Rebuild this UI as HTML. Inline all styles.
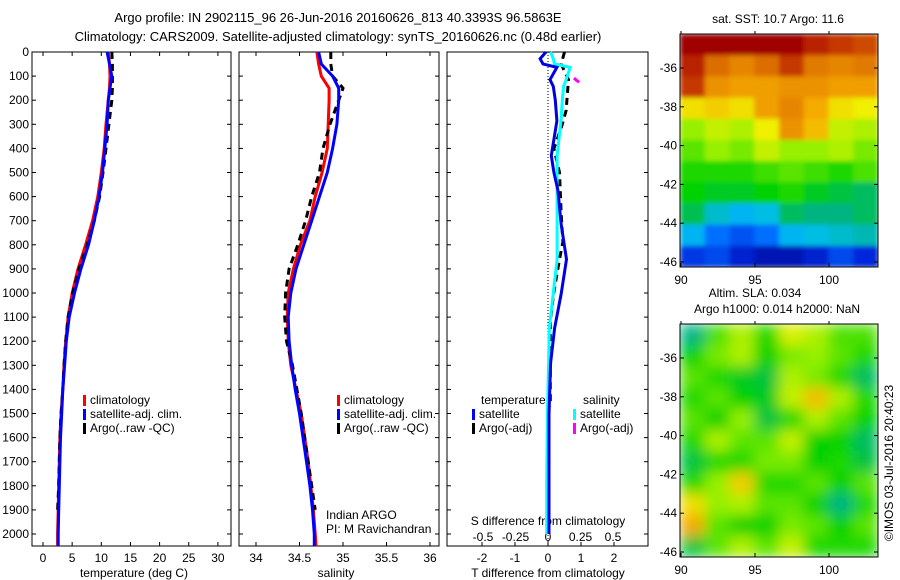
<!DOCTYPE html>
<html><head><meta charset="utf-8"><style>
body{margin:0;background:#fff;}
svg{display:block;font-family:"Liberation Sans",sans-serif;}
text{font-size:12px;fill:#000;}
</style></head><body>
<svg id="chart" width="900" height="580" viewBox="0 0 900 580" xmlns="http://www.w3.org/2000/svg">
<defs>
<filter id="blur" x="-10%" y="-10%" width="120%" height="120%"><feGaussianBlur stdDeviation="7" edgeMode="duplicate"/></filter>
<filter id="blur2" x="-5%" y="-5%" width="110%" height="110%"><feGaussianBlur stdDeviation="2.5" edgeMode="duplicate"/></filter>
<clipPath id="clip1"><rect x="680" y="34" width="198" height="233"/></clipPath>
<clipPath id="clip2"><rect x="680" y="324" width="198" height="233"/></clipPath>
</defs>
<text x="338" y="22" text-anchor="middle" style="font-size:13px">Argo profile: IN 2902115_96 26-Jun-2016 20160626_813 40.3393S 96.5863E</text>
<text x="338" y="41" text-anchor="middle" style="font-size:13px">Climatology: CARS2009. Satellite-adjusted climatology: synTS_20160626.nc (0.48d earlier)</text>
<g id="g"></g>
</svg>
<script>
const depths=[0,50,100,150,200,300,400,500,600,700,800,900,1000,1100,1200,1300,1400,1500,1600,1700,1800,1900,2000,2050];
const tClim=[11.2,11.4,11.5,11.4,11.2,10.8,10.5,10.0,9.4,8.5,7.3,6.0,5.0,4.3,3.9,3.6,3.4,3.1,2.9,2.8,2.7,2.6,2.5,2.5];
const tSat=[11.0,11.4,11.8,11.5,11.2,11.0,10.6,10.2,9.6,8.8,7.8,6.5,5.4,4.5,4.0,3.7,3.4,3.2,3.0,2.9,2.8,2.7,2.6,2.6];
const argoDepths=[0,50,100,150,200,300,400,500,600,700,800,900,1000,1100,1200,1300,1400,1500,1600,1700,1800,1900];
const tArgo=[11.8,11.9,11.9,11.9,11.8,11.3,10.8,10.3,9.7,8.8,7.6,6.2,5.1,4.3,3.9,3.6,3.4,3.1,2.9,2.8,2.7,2.5];
const sClim=[34.70,34.72,34.75,34.84,34.84,34.83,34.82,34.76,34.68,34.62,34.51,34.43,34.37,34.36,34.37,34.40,34.46,34.52,34.56,34.60,34.63,34.66,34.68,34.69];
const sSat=[34.72,34.75,34.88,34.95,34.95,34.93,34.88,34.82,34.73,34.64,34.55,34.46,34.40,34.37,34.38,34.41,34.45,34.50,34.54,34.58,34.62,34.65,34.67,34.67];
const sArgo=[34.86,34.86,34.88,35.0,34.95,34.85,34.77,34.73,34.64,34.57,34.48,34.38,34.34,34.33,34.35,34.42,34.47,34.52,34.56,34.60,34.64,34.68];
const dDepths=[0,28,50,64,115,143,200,286,430,500,573,716,860,1003,1146,1290,1505,1800,2000];
const dT=[-0.06,-0.24,-0.15,0.27,0.06,0.16,0.22,0.27,0.1,0.18,0.3,0.4,0.56,0.4,0.2,0.08,0.03,0.03,0.03];
const dS=[0.02,0.04,0.05,0.17,0.14,0.12,0.11,0.10,0.07,0.07,0.07,0.07,0.07,0.04,0.01,0.005,-0.005,-0.01,-0.01];
const aDepths=[0,50,115,243,315,400,500,673,788,860,1003,1117,1360,1470];
const aT=[0.5,0.4,0.62,0.55,0.4,0.18,0.35,0.4,0.45,0.35,0.17,0.07,0.07,0.07];
const magDepths=[108,118,125];
const magS=[0.2,0.22,0.24];
const depthTicks=[0,100,200,300,400,500,600,700,800,900,1000,1100,1200,1300,1400,1500,1600,1700,1800,1900,2000];
const tTicks=[0,5,10,15,20,25,30];
const sTicks=[34,34.5,35,35.5,36];
const dTTicks=[-2,-1,0,1,2];
const dSTicks=[-0.5,-0.25,0,0.25,0.5];
const latTicks=[-36,-38,-40,-42,-44,-46];
const lonTicks=[90,95,100];
const sstGrid=[
[1,1,1,1,1,0.95,0.92,0.9],[0.95,0.86,0.82,0.86,0.92,0.84,0.82,0.84],[0.92,0.8,0.78,0.78,0.8,0.8,0.78,0.78],
[0.7,0.72,0.7,0.78,0.82,0.76,0.7,0.68],[0.6,0.64,0.62,0.68,0.8,0.74,0.64,0.62],[0.56,0.6,0.58,0.64,0.6,0.6,0.62,0.58],
[0.52,0.52,0.52,0.54,0.56,0.54,0.52,0.55],[0.5,0.48,0.48,0.5,0.52,0.48,0.46,0.44],[0.45,0.36,0.32,0.34,0.44,0.42,0.42,0.44],
[0.32,0.25,0.2,0.25,0.32,0.34,0.36,0.38],[0.15,0.18,0.1,0.06,0.06,0.1,0.18,0.12]];
const slaGrid=[
[0.42,0.55,0.62,0.52,0.66,0.62,0.55,0.55],[0.5,0.58,0.62,0.5,0.58,0.6,0.56,0.52],[0.56,0.52,0.48,0.46,0.62,0.58,0.52,0.44],
[0.52,0.56,0.5,0.48,0.64,0.74,0.62,0.52],[0.56,0.5,0.6,0.46,0.52,0.62,0.56,0.5],[0.52,0.62,0.56,0.56,0.64,0.5,0.5,0.44],
[0.46,0.52,0.52,0.58,0.58,0.5,0.52,0.46],[0.52,0.6,0.72,0.52,0.52,0.56,0.5,0.56],[0.7,0.6,0.62,0.56,0.56,0.5,0.42,0.52],
[0.76,0.56,0.5,0.5,0.58,0.56,0.5,0.56],[0.46,0.56,0.62,0.56,0.64,0.52,0.52,0.52]];

const NS='http://www.w3.org/2000/svg';
const G=document.getElementById('g');
function mk(tag,attrs,parent){const e=document.createElementNS(NS,tag);for(const k in attrs)e.setAttribute(k,attrs[k]);(parent||G).appendChild(e);return e;}
function txt(x,y,s,anchor,parent){const t=mk('text',{x:x,y:y,'text-anchor':anchor||'start'},parent);t.textContent=s;return t;}
const yD=d=>52+d*0.241;
const xT=v=>43+v*5.83;
const xS=v=>256+(v-34)*87;
const xDT=v=>548+v*33;
const xDS=v=>548+v*130;
const TOP=52,BOT=546;

function frame(x0,x1,name){
  const r=mk('rect',{x:x0,y:TOP,width:x1-x0,height:BOT-TOP,fill:'none',stroke:'#000','stroke-width':1});
  
  
  depthTicks.forEach(d=>{mk('line',{x1:x0,x2:x0+4,y1:yD(d),y2:yD(d),stroke:'#000'});mk('line',{x1:x1,x2:x1-4,y1:yD(d),y2:yD(d),stroke:'#000'});});
}
function line(xs,ds,xf,color,name,dash){
  const pts=xs.map((v,i)=>xf(v).toFixed(1)+','+yD(ds[i]).toFixed(1)).join(' ');
  const p=mk('polyline',{points:pts,fill:'none',stroke:color,'stroke-width':3,'stroke-dasharray':dash||'none'});
  
  
}
function legend(x,y,items,name){
  const g=mk('g',{});
  
  
  items.forEach((it,i)=>{mk('rect',{x:x,y:y+i*14-9,width:3,height:11,fill:it[1]},g);txt(x+7,y+i*14,it[0],'start',g);});
}
depthTicks.forEach(d=>{const t=txt(29,yD(d)+4,String(d),'end');});
// panel 1
frame(32,231,'temperature-panel');
tTicks.forEach(v=>{mk('line',{x1:xT(v),x2:xT(v),y1:BOT,y2:BOT-4,stroke:'#000'});mk('line',{x1:xT(v),x2:xT(v),y1:TOP,y2:TOP+4,stroke:'#000'});const t=txt(xT(v),562,String(v),'middle');});
txt(134,577,'temperature (deg C)','middle');
line(tClim,depths,xT,'#f00','temp-climatology-line');
line(tArgo,argoDepths,xT,'#000','temp-argo-line','7,5');
line(tSat,depths,xT,'#00f','temp-satellite-line');
legend(83,404,[['climatology','#f00'],['satellite-adj. clim.','#00f'],['Argo(..raw -QC)','#000']],'temp-legend');
// panel 2
frame(239,439,'salinity-panel');
sTicks.forEach(v=>{mk('line',{x1:xS(v),x2:xS(v),y1:BOT,y2:BOT-4,stroke:'#000'});mk('line',{x1:xS(v),x2:xS(v),y1:TOP,y2:TOP+4,stroke:'#000'});const t=txt(xS(v),562,String(v),'middle');});
txt(336,577,'salinity','middle');
line(sClim,depths,xS,'#f00','sal-climatology-line');
line(sArgo,argoDepths,xS,'#000','sal-argo-line','7,5');
line(sSat,depths,xS,'#00f','sal-satellite-line');
legend(337,404,[['climatology','#f00'],['satellite-adj. clim.','#00f'],['Argo(..raw -QC)','#000']],'sal-legend');
txt(326,519,'Indian ARGO');
txt(326,533,'PI: M Ravichandran');
// panel 3
frame(447,648,'difference-panel');
mk('line',{x1:548,x2:548,y1:TOP,y2:BOT,stroke:'#000','stroke-dasharray':'1,2'});
dTTicks.forEach(v=>{mk('line',{x1:xDT(v),x2:xDT(v),y1:BOT,y2:BOT-4,stroke:'#000'});txt(xDT(v),562,String(v),'middle');});
dSTicks.forEach(v=>{txt(xDS(v),541,String(v),'middle');});
txt(548,577,'T difference from climatology','middle');
txt(548,525,'S difference from climatology','middle');
line(aT,aDepths,xDT,'#000','t-diff-argo-line','7,5');
line(dS,dDepths,xDS,'#00ffff','s-diff-satellite-line');
line(dT,dDepths,xDT,'#0000e0','t-diff-satellite-line');
line(magS,magDepths,xDS,'#f0f','s-diff-argo-line');
txt(481,404,'temperature');
txt(583,404,'salinity');
legend(472,418,[['satellite','#00f'],['Argo(-adj)','#000']],'diff-legend-temp');
legend(573,418,[['satellite','#0ff'],['Argo(-adj)','#f0f']],'diff-legend-sal');
// maps
const stops=[[0,[0,0,140]],[0.12,[0,40,220]],[0.25,[0,110,255]],[0.33,[0,190,240]],[0.42,[0,180,130]],[0.5,[0,210,0]],[0.6,[150,240,0]],[0.68,[240,240,0]],[0.76,[245,170,0]],[0.86,[220,110,0]],[0.94,[190,40,0]],[1,[160,0,0]]];
function cmap(v){v=Math.max(0,Math.min(1,v));for(let i=1;i<stops.length;i++){if(v<=stops[i][0]){const a=stops[i-1],b=stops[i],t=(v-a[0])/(b[0]-a[0]);return 'rgb('+a[1].map((c,k)=>Math.round(c+(b[1][k]-c)*t)).join(',')+')';}}return 'rgb(160,0,0)';}
function map(grid,x0,y0,w,h,name,title1,title2,clip,filt){
  const rows=grid.length,cols=grid[0].length,cw=w/cols,ch=h/rows;
  const g=mk('g',{});
  
  
  const cg=mk('g',{'clip-path':'url(#'+clip+')'},g);
  const fg=mk('g',{filter:'url(#'+filt+')'},cg);
  grid.forEach((row,i)=>row.forEach((v,j)=>{const c=mk('rect',{x:x0+j*cw,y:y0+i*ch,width:cw+0.5,height:ch+0.5,fill:cmap(v)},fg);}));
  mk('rect',{x:x0,y:y0,width:w,height:h,fill:'none',stroke:'#000'},g);
  const yL=l=>y0+34+(-36-l)*19.4;
  const xL=l=>x0+1+(l-90)*14.8;
  latTicks.forEach(l=>{mk('line',{x1:x0,x2:x0+4,y1:yL(l),y2:yL(l),stroke:'#000'},g);mk('line',{x1:x0+w,x2:x0+w-4,y1:yL(l),y2:yL(l),stroke:'#000'},g);txt(x0-3,yL(l)+4,String(l),'end',g);});
  lonTicks.forEach(l=>{mk('line',{x1:xL(l),x2:xL(l),y1:y0+h,y2:y0+h-4,stroke:'#000'},g);mk('line',{x1:xL(l),x2:xL(l),y1:y0,y2:y0-3,stroke:'#000'},g);txt(xL(l),y0+h+17,String(l),'middle',g);});
  if(title2){txt(755,y0-27,title1,'middle',g);txt(777,y0-11,title2,'middle',g);}else txt(778,y0-11,title1,'middle',g);
}
map(sstGrid,680,34,198,233,'sst-map','sat. SST: 10.7 Argo: 11.6',null,'clip1','blur2');
map(slaGrid,680,324,198,233,'sla-map','Altim. SLA: 0.034','Argo h1000: 0.014 h2000: NaN','clip2','blur');
const cr=txt(0,0,'©IMOS 03-Jul-2016 20:40:23','middle');
cr.setAttribute('transform','translate(893,463) rotate(-90)');


</script>
</body></html>
